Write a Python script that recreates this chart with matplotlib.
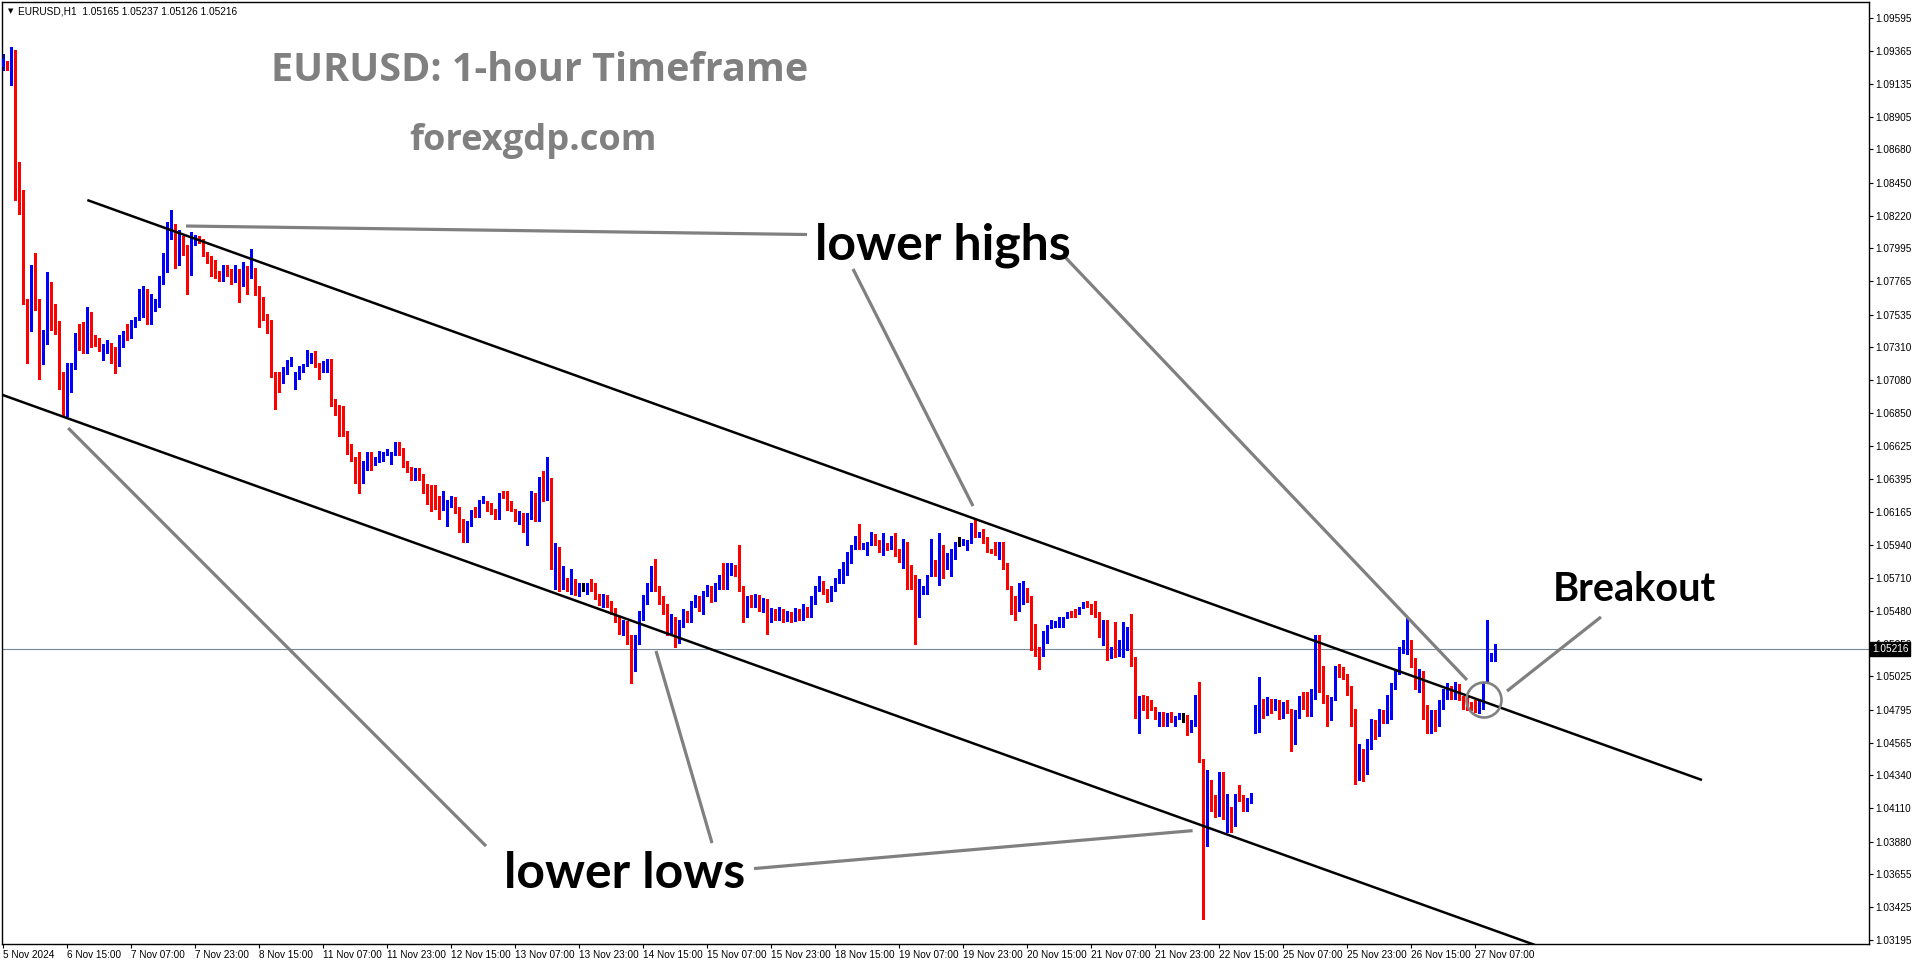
import numpy as np
import matplotlib
matplotlib.use("Agg")
import matplotlib.pyplot as plt
from matplotlib.patches import Ellipse
import matplotlib.transforms as mtrans

W, H, DPI = 1916, 964, 100

header_text = "EURUSD,H1  1.05165 1.05237 1.05126 1.05216"
title_text = "EURUSD: 1-hour Timeframe"
site_text = "forexgdp.com"

# ---- OHLC data, hourly bars, in pips (x 0.0001) ----
open_pips = [
 10926,10927,10925,10935,10838,10838,10764,10748,10779,10762,
 10727,10734,10774,10756,10748,10709,10689,10711,10717,10740,
 10733,10728,10754,10737,10736,10725,10731,10733,10722,10719,
 10738,10741,10738,10747,10751,10753,10770,10747,10757,10760,
 10777,10794,10811,10813,10793,10807,10799,10783,10804,10806,
 10806,10797,10792,10788,10782,10779,10784,10783,10779,10781,
 10780,10781,10780,10784,10773,10754,10752,10749,10711,10711,
 10707,10714,10719,10703,10710,10714,10718,10721,10724,10718,
 10715,10719,10722,10691,10688,10683,10673,10664,10653,10650,
 10644,10649,10653,10650,10652,10653,10657,10651,10657,10664,
 10659,10650,10644,10639,10645,10641,10635,10633,10632,10626,
 10619,10620,10621,10624,10618,10610,10599,10608,10617,10614,
 10623,10623,10621,10618,10613,10629,10628,10620,10618,10614,
 10614,10604,10613,10629,10616,10639,10632,10638,10586,10589,
 10567,10570,10564,10567,10562,10564,10562,10567,10563,10558,
 10554,10558,10553,10548,10542,10535,10539,10528,10515,10528,
 10546,10556,10563,10576,10563,10556,10549,10535,10542,10528,
 10539,10546,10542,10553,10556,10549,10560,10563,10558,10565,
 10571,10564,10576,10578,10573,10563,10546,10556,10553,10558,
 10549,10555,10542,10548,10544,10548,10542,10546,10542,10548,
 10544,10549,10545,10556,10563,10567,10562,10556,10563,10569,
 10570,10575,10587,10592,10598,10592,10589,10595,10600,10596,
 10589,10594,10593,10598,10589,10585,10594,10578,10573,10551,
 10562,10564,10572,10578,10573,10588,10578,10581,10591,10595,
 10594,10593,10596,10608,10600,10605,10597,10590,10594,10588,
 10587,10579,10565,10556,10550,10555,10560,10558,10526,10523,
 10521,10533,10537,10539,10539,10541,10544,10547,10547,10547,
 10551,10554,10553,10547,10546,10537,10542,10517,10523,10521,
 10528,10534,10537,10512,10475,10488,10487,10485,10481,10474,
 10477,10470,10477,10472,10474,10476,10476,10465,10470,10487,
 10444,10402,10430,10418,10409,10430,10405,10411,10399,10420,
 10418,10411,10416,10479,10479,10483,10479,10486,10480,10485,
 10477,10483,10479,10459,10477,10490,10487,10480,10490,10528,
 10509,10489,10479,10487,10509,10507,10503,10492,10478,10438,
 10449,10438,10456,10470,10463,10477,10473,10474,10497,10505,
 10521,10521,10525,10512,10497,10504,10480,10468,10477,10470,
 10483,10490,10494,10489,10494,10487,10487,10484,10481,10478,
 10487,10499,10515,10517]

high_pips = [
 10934,10929,10939,10937,10859,10840,10764,10788,10796,10764,
 10743,10783,10776,10761,10749,10714,10720,10720,10741,10747,
 10748,10759,10755,10739,10737,10733,10736,10734,10731,10739,
 10742,10747,10750,10752,10771,10773,10771,10768,10764,10780,
 10796,10818,10826,10816,10812,10808,10802,10811,10809,10808,
 10806,10797,10794,10791,10784,10788,10788,10785,10788,10785,
 10790,10787,10799,10786,10773,10766,10754,10750,10714,10714,
 10717,10722,10724,10714,10718,10719,10729,10727,10728,10720,
 10721,10723,10723,10695,10691,10690,10673,10664,10655,10658,
 10652,10658,10658,10655,10659,10658,10660,10658,10665,10665,
 10661,10652,10648,10647,10647,10643,10636,10635,10635,10628,
 10631,10625,10628,10627,10620,10612,10610,10618,10620,10625,
 10628,10624,10623,10619,10630,10631,10631,10624,10619,10617,
 10616,10616,10631,10630,10641,10645,10655,10640,10595,10592,
 10579,10571,10577,10570,10567,10567,10567,10570,10567,10560,
 10560,10559,10555,10550,10544,10542,10541,10531,10531,10548,
 10559,10567,10579,10584,10565,10558,10553,10546,10544,10542,
 10549,10548,10555,10559,10558,10562,10566,10565,10567,10573,
 10581,10581,10581,10580,10594,10565,10558,10559,10560,10559,
 10557,10556,10550,10549,10551,10549,10548,10547,10550,10549,
 10553,10551,10558,10565,10572,10569,10563,10565,10571,10577,
 10582,10589,10594,10600,10608,10595,10596,10603,10601,10597,
 10602,10595,10600,10602,10591,10598,10596,10580,10573,10570,
 10565,10573,10598,10583,10602,10594,10588,10591,10596,10599,
 10598,10597,10609,10612,10603,10605,10599,10591,10596,10596,
 10596,10581,10565,10558,10567,10569,10564,10558,10539,10523,
 10534,10538,10542,10541,10544,10544,10547,10548,10549,10551,
 10554,10555,10553,10555,10547,10542,10542,10523,10540,10528,
 10540,10537,10546,10516,10489,10490,10489,10486,10481,10478,
 10478,10477,10478,10475,10477,10477,10476,10472,10490,10499,
 10445,10438,10431,10420,10436,10436,10421,10412,10421,10427,
 10420,10418,10422,10483,10502,10487,10488,10487,10487,10486,
 10485,10486,10480,10479,10489,10492,10492,10494,10531,10531,
 10510,10490,10488,10510,10511,10509,10504,10496,10480,10456,
 10452,10459,10473,10472,10480,10479,10490,10498,10508,10523,
 10528,10544,10528,10515,10508,10506,10483,10479,10479,10486,
 10494,10498,10496,10499,10497,10489,10490,10485,10486,10486,
 10499,10542,10519,10525]

low_pips = [
 10923,10923,10913,10833,10823,10761,10720,10742,10757,10709,
 10719,10733,10743,10740,10702,10683,10683,10700,10716,10729,
 10727,10727,10731,10732,10728,10722,10727,10720,10713,10718,
 10731,10736,10737,10745,10750,10752,10747,10747,10756,10759,
 10775,10783,10806,10786,10788,10795,10768,10781,10802,10803,
 10794,10789,10780,10779,10777,10777,10780,10775,10776,10762,
 10773,10768,10779,10767,10745,10750,10741,10710,10688,10700,
 10706,10712,10718,10702,10709,10714,10718,10720,10717,10709,
 10714,10714,10690,10684,10669,10669,10657,10652,10637,10630,
 10637,10646,10646,10649,10651,10652,10656,10650,10656,10656,
 10648,10644,10639,10639,10639,10630,10622,10617,10619,10612,
 10618,10607,10620,10616,10603,10596,10596,10607,10613,10613,
 10623,10617,10615,10612,10612,10626,10618,10617,10610,10608,
 10603,10594,10612,10610,10610,10624,10625,10577,10563,10562,
 10563,10562,10560,10559,10558,10562,10560,10562,10556,10552,
 10551,10551,10546,10540,10532,10531,10525,10498,10506,10525,
 10542,10553,10562,10562,10553,10546,10531,10533,10523,10526,
 10537,10540,10540,10551,10548,10546,10558,10554,10555,10563,
 10563,10563,10573,10572,10562,10540,10544,10551,10551,10548,
 10547,10532,10540,10542,10542,10540,10541,10540,10541,10542,
 10542,10544,10544,10553,10562,10560,10554,10555,10562,10567,
 10567,10573,10581,10591,10591,10591,10587,10594,10594,10589,
 10587,10590,10591,10586,10582,10578,10563,10563,10525,10544,
 10560,10560,10572,10572,10566,10571,10577,10572,10584,10593,
 10594,10590,10595,10599,10599,10595,10589,10588,10587,10584,
 10577,10563,10546,10542,10548,10553,10554,10521,10517,10508,
 10517,10526,10536,10537,10537,10537,10543,10544,10544,10546,
 10550,10551,10546,10544,10530,10524,10514,10515,10516,10517,
 10516,10521,10510,10474,10463,10479,10474,10479,10473,10468,
 10468,10468,10471,10468,10473,10471,10462,10464,10468,10443,
 10334,10385,10409,10405,10406,10404,10395,10395,10399,10416,
 10409,10409,10415,10463,10464,10474,10476,10477,10479,10473,
 10474,10477,10451,10456,10474,10480,10475,10475,10487,10492,
 10484,10468,10472,10486,10502,10501,10490,10468,10428,10431,
 10430,10435,10452,10459,10461,10470,10470,10473,10494,10504,
 10519,10518,10509,10494,10492,10473,10463,10463,10465,10468,
 10480,10487,10487,10487,10486,10480,10479,10479,10478,10477,
 10480,10499,10513,10513]

close_pips = [
 10931,10925,10936,10837,10837,10763,10748,10779,10761,10726,
 10735,10774,10756,10748,10708,10690,10711,10717,10740,10733,
 10727,10754,10736,10736,10729,10730,10733,10722,10719,10738,
 10741,10738,10747,10751,10753,10770,10748,10757,10761,10777,
 10794,10811,10813,10794,10807,10799,10783,10804,10805,10804,
 10797,10792,10788,10782,10779,10784,10783,10779,10781,10780,
 10781,10780,10784,10773,10754,10752,10749,10711,10710,10707,
 10714,10719,10720,10710,10715,10718,10721,10724,10718,10715,
 10719,10722,10691,10688,10683,10673,10664,10653,10650,10644,
 10649,10653,10650,10652,10653,10657,10658,10657,10664,10659,
 10650,10644,10639,10645,10641,10635,10632,10632,10627,10619,
 10620,10621,10624,10617,10610,10599,10608,10617,10614,10624,
 10625,10620,10617,10613,10629,10627,10619,10618,10614,10615,
 10604,10614,10628,10616,10639,10632,10638,10586,10589,10567,
 10570,10564,10567,10562,10566,10564,10567,10563,10558,10554,
 10558,10553,10548,10542,10535,10539,10528,10515,10528,10546,
 10556,10563,10576,10563,10556,10549,10535,10542,10528,10539,
 10546,10542,10553,10556,10549,10560,10563,10558,10565,10571,
 10564,10576,10578,10573,10563,10546,10556,10553,10558,10549,
 10555,10542,10548,10544,10548,10542,10546,10542,10548,10544,
 10549,10545,10556,10563,10567,10562,10556,10563,10569,10576,
 10575,10587,10592,10598,10592,10594,10595,10600,10596,10590,
 10594,10591,10598,10587,10585,10594,10578,10572,10551,10562,
 10564,10573,10578,10573,10588,10578,10581,10591,10595,10595,
 10597,10596,10608,10601,10601,10596,10590,10589,10587,10589,
 10579,10565,10556,10550,10555,10560,10558,10526,10523,10521,
 10533,10537,10540,10540,10544,10544,10546,10546,10546,10551,
 10554,10552,10547,10546,10537,10542,10517,10523,10521,10528,
 10534,10537,10510,10475,10488,10486,10485,10481,10474,10477,
 10470,10477,10472,10474,10476,10476,10465,10470,10487,10444,
 10402,10430,10418,10409,10430,10409,10411,10399,10420,10416,
 10412,10416,10420,10482,10483,10479,10486,10480,10485,10477,
 10483,10479,10459,10477,10487,10486,10480,10490,10528,10509,
 10489,10479,10487,10508,10506,10503,10492,10478,10438,10449,
 10438,10456,10470,10463,10477,10473,10487,10497,10505,10521,
 10525,10528,10512,10497,10504,10480,10468,10477,10470,10483,
 10490,10494,10489,10495,10487,10484,10483,10481,10478,10481,
 10499,10515,10517,10521.6]

price_tick_labels = ["1.09595", "1.09365", "1.09135", "1.08905", "1.08680", "1.08450",
                     "1.08220", "1.07995", "1.07765", "1.07535", "1.07310", "1.07080",
                     "1.06850", "1.06625", "1.06395", "1.06165", "1.05940", "1.05710",
                     "1.05480", "1.05250", "1.05025", "1.04795", "1.04565", "1.04340",
                     "1.04110", "1.03880", "1.03655", "1.03425", "1.03195"]
date_tick_labels = ["5 Nov 2024", "6 Nov 15:00", "7 Nov 07:00", "7 Nov 23:00", "8 Nov 15:00",
                    "11 Nov 07:00", "11 Nov 23:00", "12 Nov 15:00", "13 Nov 07:00", "13 Nov 23:00",
                    "14 Nov 15:00", "15 Nov 07:00", "15 Nov 23:00", "18 Nov 15:00", "19 Nov 07:00",
                    "19 Nov 23:00", "20 Nov 15:00", "21 Nov 07:00", "21 Nov 23:00", "22 Nov 15:00",
                    "25 Nov 07:00", "25 Nov 23:00", "26 Nov 15:00", "27 Nov 07:00"]
bars_per_date_tick = 16
current_price = 1.05216

# annotation geometry in (bar index, price)
upper_channel = [(21.08, 1.08329), (424.75, 1.04307)]
lower_channel = [(-0.75, 1.06984), (383.0, 1.03163)]
pointer_lines = [
    [(45.75, 1.08149), (201.0, 1.08090)],
    [(212.5, 1.07851), (242.5, 1.06207)],
    [(265.5, 1.07934), (366.0, 1.05001)],
    [(399.5, 1.05438), (376.0, 1.04924)],
    [(16.3, 1.06748), (120.75, 1.03849)],
    [(163.25, 1.05202), (177.25, 1.03870)],
    [(187.75, 1.03693), (297.4, 1.03956)],
]
breakout_circle = (370.25, 1.04862)

o = np.array(open_pips, float) / 1e4
h = np.array(high_pips, float) / 1e4
l = np.array(low_pips, float) / 1e4
c = np.array(close_pips, float) / 1e4
h = np.maximum(h, np.maximum(o, c))
l = np.minimum(l, np.minimum(o, c))
idx = np.arange(len(c))

fig = plt.figure(figsize=(W / DPI, H / DPI), dpi=DPI)
fig.patch.set_facecolor("white")
ax_l, ax_r, ax_t, ax_b = 2, 1869, 2, 944
ax = fig.add_axes([ax_l / W, (H - ax_b) / H, (ax_r - ax_l) / W, (ax_b - ax_t) / H])
ax.set_facecolor("white")
ax.set_xlim(-0.25, 466.5)
ax.set_ylim(1.031699, 1.097025)

ax.axhline(current_price, color="#778899", lw=0.8, zorder=1)

cols = np.where(c > o, "#0000FF", np.where(c < o, "#FF0000", "#000000"))
ax.vlines(idx, l, h, colors=cols, lw=0.75, zorder=2, antialiased=False)
body_bot = np.minimum(o, c)
body_h = np.abs(c - o)
ax.bar(idx, body_h, bottom=body_bot, width=0.72, color=cols, edgecolor=cols,
       linewidth=0.5, zorder=3, antialiased=False)

for seg in (upper_channel, lower_channel):
    xs, ys = zip(*seg)
    ax.plot(xs, ys, color="black", lw=1.8, zorder=4, solid_capstyle="butt")

for seg in pointer_lines:
    xs, ys = zip(*seg)
    ax.plot(xs, ys, color="#808080", lw=2.3, zorder=5, solid_capstyle="butt")

ax.add_patch(Ellipse(breakout_circle, width=35 / 4.0, height=35 / 14420.0,
                     fill=False, edgecolor="#808080", lw=1.9, zorder=5))

# axes styling
for sp in ax.spines.values():
    sp.set_color("black")
    sp.set_linewidth(1.0)
ax.yaxis.tick_right()
ax.set_yticks([float(s) for s in price_tick_labels])
ax.set_yticklabels(price_tick_labels)
ax.set_xticks(idx[::bars_per_date_tick][:len(date_tick_labels)])
ax.set_xticklabels(date_tick_labels)
for t in ax.get_xticklabels():
    t.set_horizontalalignment("left")
ax.tick_params(axis="y", direction="out", length=3, width=0.8, pad=1.5,
               labelsize=7.2, colors="black")
ax.tick_params(axis="x", direction="out", length=3, width=0.8, pad=1.5,
               labelsize=7.2, colors="black")
for t in ax.get_xticklabels() + ax.get_yticklabels():
    t.set_fontfamily("Liberation Sans")

trans = mtrans.blended_transform_factory(fig.transFigure, ax.transData)
ax.text(1872 / W, current_price, "1.05216", transform=trans, ha="left", va="center",
        fontsize=7.2, family="Liberation Sans", color="white", zorder=20, clip_on=False,
        bbox=dict(boxstyle="square,pad=0.18", facecolor="black", edgecolor="black"))

fig.text(8 / W, 1 - 11 / H, "\u25BC", fontsize=5, va="center", ha="left", color="black")
fig.text(18 / W, 1 - 11 / H, header_text, fontsize=7.3, va="center", ha="left",
         family="Liberation Sans", color="black")

renderer = fig.canvas.get_renderer()

def px_to_data(x, y):
    return (x - 3) / 4.0, 1.09595 - (y - 17.5) / 14420.0

def fit_text(s, x_px, base_px, width_px, color, family):
    xd, yd = px_to_data(x_px, base_px)
    t = ax.text(xd, yd, s, ha="left", va="baseline", fontsize=20, fontweight="bold",
                family=family, color=color, zorder=6)
    bb = t.get_window_extent(renderer)
    t.set_fontsize(20 * width_px / bb.width)
    return t

fit_text(title_text, 271, 81, 538, "#808080", "Open Sans")
fit_text(site_text, 409, 150, 247, "#808080", "Open Sans")
fit_text("lower highs", 815, 259, 256, "black", "Lato")
fit_text("lower lows", 504, 888, 241, "black", "Lato")
fit_text("Breakout", 1553, 601, 163, "black", "Lato")

fig.savefig("out.png", dpi=DPI, facecolor="white")
